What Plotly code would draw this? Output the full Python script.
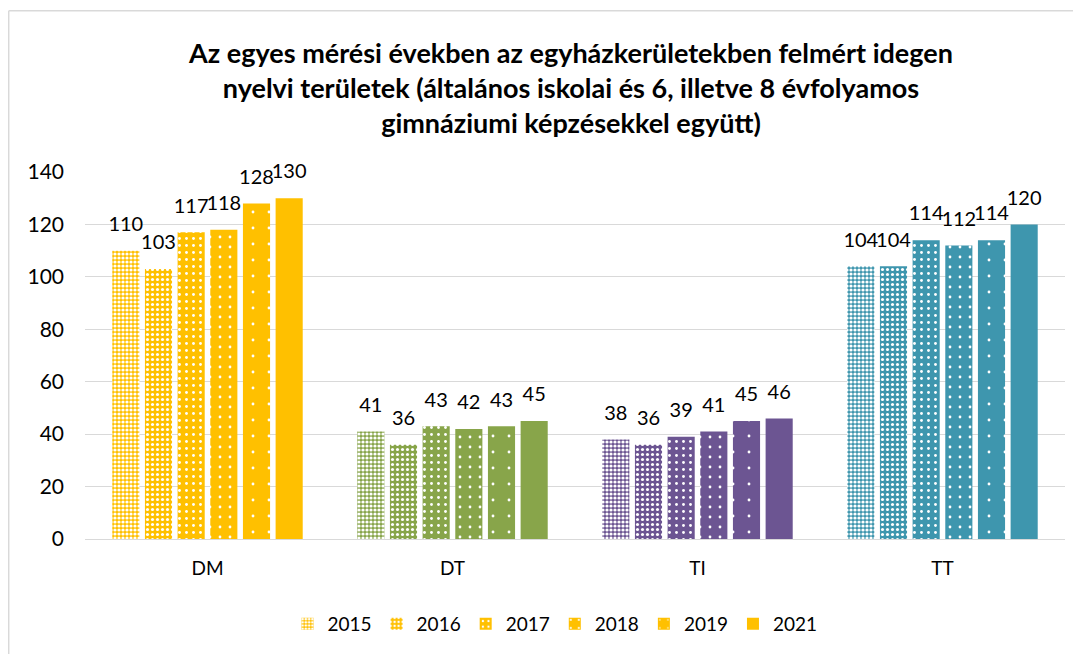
import plotly.graph_objects as go

categories = ["DM", "DT", "TI", "TT"]
years = ["2015", "2016", "2017", "2018", "2019", "2021"]
values = {
    "2015": [110, 41, 38, 104],
    "2016": [103, 36, 36, 104],
    "2017": [117, 43, 39, 114],
    "2018": [118, 42, 41, 112],
    "2019": [128, 43, 45, 114],
    "2021": [130, 45, 46, 120],
}
cat_colors = ["#FFC000", "#88A54A", "#6C5592", "#3E96AE"]
title_text = ("Az egyes mérési években az egyházkerületekben felmért idegen<br>"
              "nyelvi területek (általános iskolai és 6, illetve 8 évfolyamos<br>"
              "gimnáziumi képzésekkel együtt)")

# pattern styles per year (size, solidity of white dots); None = solid
patterns = {
    "2015": (4, 0.5),
    "2016": (5, 0.3),
    "2017": (7, 0.13),
    "2018": (10, 0.06),
    "2019": (16, 0.025),
    "2021": None,
}

FONT = "Lato"
OFF = 8  # page body margin
W, H = 1081 - OFF, 654 - OFF
PX0, PX1, PY0, PY1 = 85, 1065, 172, 539
L, R = PX0 - OFF, W - (PX1 - OFF)
T, B = PY0 - OFF, H - (PY1 - OFF)
pw, ph = W - L - R, H - T - B


def px_x(px):
    return (px - PX0) / pw


def px_y(py):
    return (PY1 - py) / ph


fig = go.Figure()
for y in years:
    p = patterns[y]
    for ci, cat in enumerate(categories):
        if p is None:
            pat = dict(shape="")
        else:
            pat = dict(shape=".", size=p[0], solidity=p[1], fillmode="overlay",
                       fgcolor="#FFFFFF", fgopacity=1)
        fig.add_trace(go.Bar(
            name=y, x=[cat], y=[values[y][ci]], offsetgroup=y, legendgroup=y,
            showlegend=(ci == 0),
            marker=dict(color=cat_colors[ci], line=dict(width=0), pattern=pat),
            hoverinfo="x+y",
        ))
for y in years:
    fig.add_trace(go.Scatter(
        x=categories, y=values[y], offsetgroup=y, mode="markers+text",
        text=[str(v) for v in values[y]], textposition="top center",
        textfont=dict(size=20, color="#000000", family=FONT),
        marker=dict(size=22, opacity=0), showlegend=False, hoverinfo="skip",
        cliponaxis=False,
    ))

fig.update_layout(
    width=W, height=H,
    margin=dict(l=L, r=R, t=T, b=B, autoexpand=False),
    paper_bgcolor="white", plot_bgcolor="white",
    barmode="group", bargap=0.2, bargroupgap=0.17,
    scattermode="group", scattergap=0.2,
    font=dict(family=FONT, color="#000000"),
    title=dict(text=title_text, x=(571 - OFF) / W, xanchor="center",
               y=1 - (88 - 25 - OFF) / H, yanchor="middle",
               font=dict(size=27, family=FONT, color="#000000", weight="bold")),
    xaxis=dict(showline=True, linecolor="#D9D9D9", linewidth=1, ticks="",
               tickfont=dict(size=19, family=FONT, color="#000000"),
               ticklabelstandoff=12),
    yaxis=dict(range=[0, 140], dtick=20, showgrid=True, gridcolor="#D9D9D9",
               gridwidth=1, zeroline=False, ticks="",
               tickfont=dict(size=21, family=FONT, color="#000000"),
               ticklabelstandoff=20),
    legend=dict(orientation="h", x=px_x(555), xanchor="center", y=px_y(624),
                yanchor="middle", font=dict(size=19, family=FONT, color="#000000"),
                itemwidth=30, traceorder="normal"),
    showlegend=True,
)
fig.add_shape(type="line", xref="paper", yref="paper", x0=px_x(8.7), x1=px_x(1090),
              y0=px_y(10.7), y1=px_y(10.7), line=dict(color="#D9D9D9", width=1.5))
fig.add_shape(type="line", xref="paper", yref="paper", x0=px_x(8.7), x1=px_x(8.7),
              y0=px_y(10.7), y1=px_y(670), line=dict(color="#D9D9D9", width=1.5))

fig.write_html("out.html")
